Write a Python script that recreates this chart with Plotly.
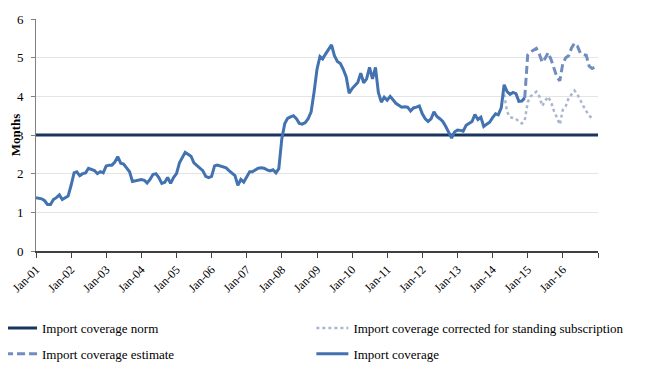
import pandas as pd
import plotly.graph_objects as go

# Monthly import coverage (months), Jan-2001 .. Dec-2014
coverage = [
    1.38, 1.37, 1.35, 1.30, 1.20, 1.20, 1.33, 1.38, 1.45, 1.33, 1.37, 1.42,  # 2001
    1.70, 2.02, 2.05, 1.95, 2.00, 2.02, 2.14, 2.10, 2.08, 2.00, 2.05, 2.02,  # 2002
    2.20, 2.22, 2.22, 2.30, 2.44, 2.27, 2.25, 2.15, 2.05, 1.80, 1.82, 1.82,  # 2003
    1.85, 1.83, 1.76, 1.85, 1.98, 2.00, 1.90, 1.75, 1.78, 1.90, 1.75, 1.90,  # 2004
    2.00, 2.28, 2.42, 2.55, 2.50, 2.45, 2.28, 2.22, 2.15, 2.08, 1.93, 1.90,  # 2005
    1.93, 2.20, 2.22, 2.20, 2.18, 2.15, 2.08, 2.02, 1.95, 1.70, 1.85, 1.78,  # 2006
    1.90, 2.05, 2.05, 2.10, 2.14, 2.15, 2.14, 2.10, 2.07, 2.10, 2.02, 2.13,  # 2007
    2.90, 3.30, 3.43, 3.47, 3.50, 3.42, 3.30, 3.28, 3.32, 3.42, 3.60, 4.10,  # 2008
    4.70, 5.03, 4.97, 5.10, 5.20, 5.33, 5.05, 4.90, 4.85, 4.70, 4.50, 4.08,  # 2009
    4.20, 4.30, 4.36, 4.60, 4.35, 4.45, 4.75, 4.45, 4.75, 4.10, 3.85, 3.98,  # 2010
    3.90, 4.00, 3.92, 3.82, 3.77, 3.72, 3.73, 3.72, 3.62, 3.70, 3.72, 3.75,  # 2011
    3.55, 3.42, 3.35, 3.42, 3.60, 3.48, 3.42, 3.35, 3.22, 3.05, 2.92, 3.08,  # 2012
    3.13, 3.12, 3.10, 3.25, 3.30, 3.35, 3.53, 3.40, 3.46, 3.22, 3.28, 3.33,  # 2013
    3.45, 3.55, 3.52, 3.70, 4.30, 4.12, 4.05, 4.10, 4.07, 3.87, 3.88, 3.96,  # 2014
]
coverage_start = "2001-01-01"

# Import coverage estimate, Dec-2014 .. Dec-2016
estimate = [
    3.96,
    5.07, 5.15, 5.20, 5.24, 5.10, 4.88, 4.98, 5.13, 4.95, 4.70, 4.50, 4.40,  # 2015
    4.85, 5.00, 5.05, 5.25, 5.37, 5.30, 5.12, 5.08, 5.06, 4.78, 4.72, 4.76,  # 2016
]
estimate_start = "2014-12-01"

# Import coverage corrected for standing subscription, May-2014 .. Nov-2016
corrected = [
    4.05, 3.60, 3.46, 3.43, 3.42, 3.35, 3.30, 3.37,
    3.85, 4.00, 4.05, 4.12, 4.00, 3.75, 3.88, 3.99, 3.85, 3.62, 3.45, 3.27,
    3.65, 3.75, 3.95, 4.05, 4.15, 4.05, 3.88, 3.75, 3.62, 3.50, 3.43,
]
corrected_start = "2014-05-01"

norm_value = 3
norm_span = ["2001-01-01", "2017-01-01"]

tick_years = list(range(2001, 2018))
tick_labels = [f"Jan-{str(y)[2:]}" for y in range(2001, 2017)] + [""]

y_ticks = [0, 1, 2, 3, 4, 5, 6]

FONT = "Liberation Serif, DejaVu Serif, serif"
NAVY = "#1B365D"
BLUE = "#4272B0"
EST = "#718DC0"
COR = "#AAB6CF"

d_cov = pd.date_range(coverage_start, periods=len(coverage), freq="MS")
d_est = pd.date_range(estimate_start, periods=len(estimate), freq="MS")
d_cor = pd.date_range(corrected_start, periods=len(corrected), freq="MS")

fig = go.Figure()
fig.add_trace(go.Scatter(
    x=norm_span, y=[norm_value, norm_value], mode="lines",
    name="Import coverage norm", legend="legend", legendgroup="a", legendrank=1,
    line=dict(color=NAVY, width=3)))
fig.add_trace(go.Scatter(
    x=d_cor, y=corrected, mode="lines",
    name="Import coverage corrected for standing subscription",
    legend="legend2", legendgroup="c", legendrank=1,
    line=dict(color=COR, width=2.5, dash="3px,3px")))
fig.add_trace(go.Scatter(
    x=d_est, y=estimate, mode="lines",
    name="Import coverage estimate", legend="legend", legendgroup="b", legendrank=2,
    line=dict(color=EST, width=3, dash="8px,4px")))
fig.add_trace(go.Scatter(
    x=d_cov, y=coverage, mode="lines",
    name="Import coverage", legend="legend2", legendgroup="d", legendrank=2,
    line=dict(color=BLUE, width=3)))

legend_common = dict(
    orientation="v", xanchor="left", yanchor="top", y=-0.267,
    font=dict(family=FONT, size=13, color="#000000"),
    bgcolor="rgba(0,0,0,0)", itemwidth=32, tracegroupgap=6,
    traceorder="grouped",
)

# the page body has an 8px default margin; margins compensate so the
# plot area sits at x 36..598, y 19..251 in the window
fig.update_layout(
    width=648, height=379,
    margin=dict(l=28, r=58, t=11, b=136, autoexpand=False),
    paper_bgcolor="white", plot_bgcolor="white",
    font=dict(family=FONT, size=12, color="#000000"),
    showlegend=True,
    legend=dict(x=-0.064, **legend_common),
    legend2=dict(x=0.49, **legend_common),
)

fig.update_xaxes(
    type="date",
    range=["2001-01-01", "2017-01-01"],
    tickvals=[f"{y}-01-01" for y in tick_years],
    ticktext=tick_labels,
    tickangle=-45,
    ticks="outside", ticklen=5, tickcolor="#404040",
    showline=True, linecolor="#404040", linewidth=1.5,
    showgrid=False, zeroline=False, automargin=False,
    tickfont=dict(family=FONT, size=12, color="#000000"),
)
fig.update_yaxes(
    range=[0, 6],
    tickvals=y_ticks,
    ticks="outside", ticklen=4, tickcolor="#808080",
    showline=True, linecolor="#808080", linewidth=1,
    showgrid=True, gridcolor="#E4E4E4", gridwidth=1,
    zeroline=False, automargin=False, ticklabelstandoff=5,
    tickfont=dict(family=FONT, size=13, color="#000000"),
    title=dict(text="<b>Months</b>", font=dict(family=FONT, size=13), standoff=4),
)

fig.write_html("out.html")
